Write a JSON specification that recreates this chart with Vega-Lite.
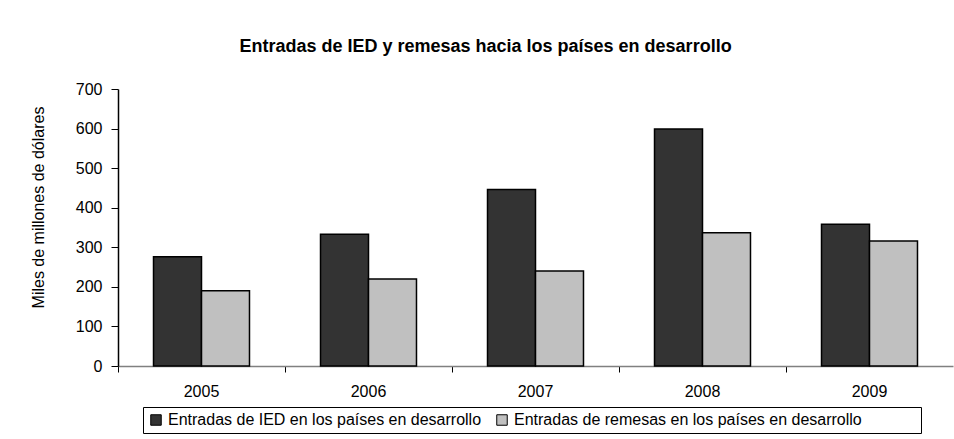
{
  "$schema": "https://vega.github.io/schema/vega-lite/v6.json",
  "autosize": {"type": "none"},
  "padding": {"left": 118, "top": 89, "right": 1, "bottom": 73},
  "width": 835,
  "height": 277,
  "background": "white",
  "config": {
    "font": "Liberation Sans",
    "view": {"stroke": null}
  },
  "title": {
    "text": "Entradas de IED y remesas hacia los países en desarrollo",
    "font": "Liberation Sans",
    "fontSize": 18,
    "fontWeight": "bold",
    "color": "black",
    "anchor": "middle",
    "frame": "group",
    "dx": -50,
    "offset": 25
  },
  "data": {
    "values": [
      {"year": "2005", "serie": "Entradas de IED en los países en desarrollo", "value": 276},
      {"year": "2005", "serie": "Entradas de remesas en los países en desarrollo", "value": 190},
      {"year": "2006", "serie": "Entradas de IED en los países en desarrollo", "value": 333},
      {"year": "2006", "serie": "Entradas de remesas en los países en desarrollo", "value": 220},
      {"year": "2007", "serie": "Entradas de IED en los países en desarrollo", "value": 446},
      {"year": "2007", "serie": "Entradas de remesas en los países en desarrollo", "value": 240},
      {"year": "2008", "serie": "Entradas de IED en los países en desarrollo", "value": 599},
      {"year": "2008", "serie": "Entradas de remesas en los países en desarrollo", "value": 337},
      {"year": "2009", "serie": "Entradas de IED en los países en desarrollo", "value": 358},
      {"year": "2009", "serie": "Entradas de remesas en los países en desarrollo", "value": 316}
    ]
  },
  "mark": {"type": "bar", "stroke": "black", "strokeWidth": 1.5},
  "encoding": {
    "x": {
      "field": "year",
      "type": "nominal",
      "scale": {"paddingInner": 0, "paddingOuter": 0},
      "axis": {
        "title": null,
        "labelAngle": 0,
        "bandPosition": 0,
        "labelFont": "Liberation Sans",
        "labelFontSize": 16,
        "labelColor": "black",
        "labelPadding": 11,
        "tickSize": 6,
        "tickColor": "black",
        "tickWidth": 1,
        "domainColor": "#808080",
        "domainWidth": 1.5
      }
    },
    "xOffset": {
      "field": "serie",
      "type": "nominal",
      "scale": {"paddingInner": 0, "paddingOuter": 0.74}
    },
    "y": {
      "field": "value",
      "type": "quantitative",
      "scale": {"domain": [0, 700], "nice": false},
      "axis": {
        "title": "Miles de millones de dólares",
        "titleFont": "Liberation Sans",
        "titleFontSize": 16,
        "titleFontWeight": "normal",
        "titleColor": "black",
        "titleY": 118,
        "titleX": -72,
        "titleAlign": "center",
        "titleBaseline": "bottom",
        "values": [0, 100, 200, 300, 400, 500, 600, 700],
        "grid": false,
        "labelFont": "Liberation Sans",
        "labelFontSize": 16,
        "labelColor": "black",
        "labelPadding": 9,
        "tickSize": 7,
        "tickColor": "black",
        "domainColor": "black",
        "domainWidth": 1.5
      }
    },
    "color": {
      "field": "serie",
      "type": "nominal",
      "scale": {"range": ["#333333", "#c0c0c0"]},
      "legend": {
        "title": "\u00a0",
        "titleOrient": "right",
        "titlePadding": 54,
        "orient": "none",
        "direction": "horizontal",
        "legendX": 25,
        "legendY": 318,
        "strokeColor": "black",
        "padding": 5,
        "symbolType": "square",
        "symbolSize": 110,
        "symbolStrokeColor": "black",
        "symbolStrokeWidth": 1,
        "labelFont": "Liberation Sans",
        "labelFontSize": 16,
        "labelColor": "black",
        "labelLimit": 0,
        "columnPadding": 12,
        "symbolOffset": 0
      }
    }
  }
}
